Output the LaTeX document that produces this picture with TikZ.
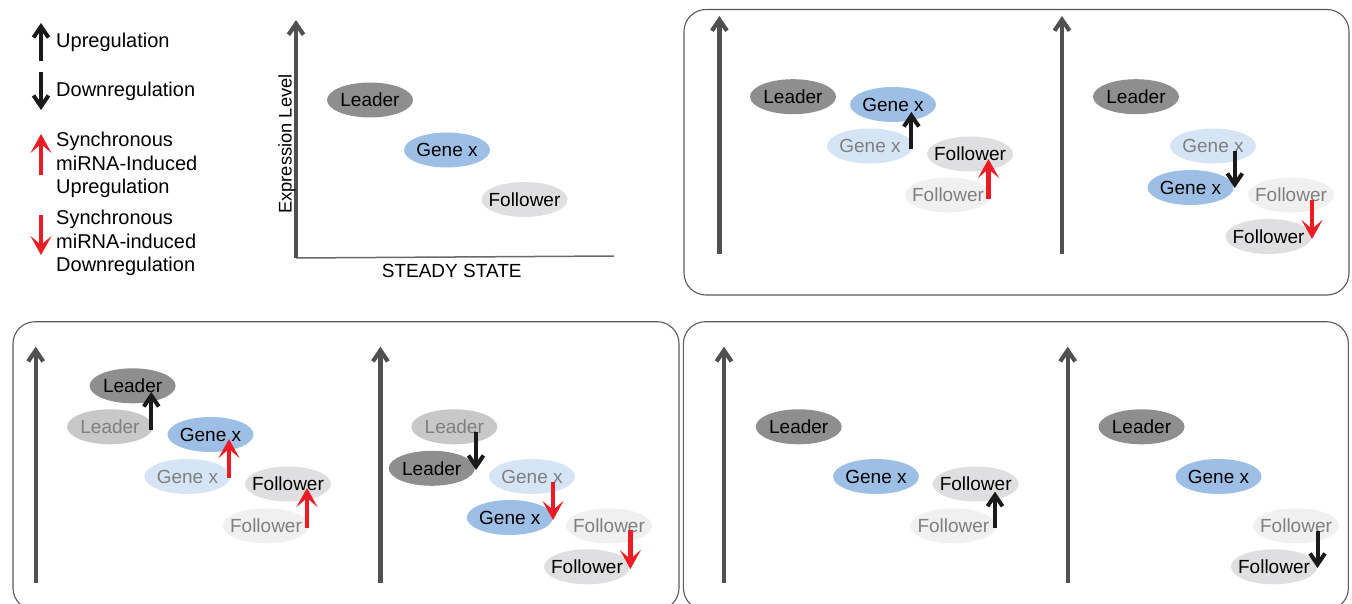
\documentclass[tikz,border=0pt]{standalone}
\usepackage{fontspec}
\setmainfont{Liberation Sans}
\usetikzlibrary{shapes.geometric,arrows.meta}
\definecolor{leaderc}{HTML}{8E8E8E}
\definecolor{leaderfc}{HTML}{C9C8C8}
\definecolor{genec}{HTML}{9EBFE5}
\definecolor{genefc}{HTML}{D6E5F5}
\definecolor{folc}{HTML}{DFDFE1}
\definecolor{folfc}{HTML}{F0F0F0}
\definecolor{fadetext}{HTML}{7F7F7F}
\definecolor{redc}{HTML}{ED1C24}
\definecolor{axisc}{HTML}{505050}
\definecolor{blk}{HTML}{1A1A1A}
\definecolor{panelc}{HTML}{5A5A5A}
\tikzset{
  blob/.style={ellipse, minimum width=86pt, minimum height=35pt, inner sep=0pt,
    font=\fontsize{19}{22}\selectfont,
    execute at begin node={\hbox to 0pt\bgroup\hss},
    execute at end node={\hss\egroup}},
  leader/.style={blob, fill=leaderc, text=black},
  leaderf/.style={blob, fill=leaderfc, text=fadetext},
  gene/.style={blob, fill=genec, text=black},
  genef/.style={blob, fill=genefc, text=fadetext},
  fol/.style={blob, fill=folc, text=black},
  folf/.style={blob, fill=folfc, text=fadetext},
  axisarr/.style={draw=axisc, line width=4.2pt, -{Straight Barb[length=11pt,width=15pt]}},
  regarr/.style={draw=blk, line width=4pt, -{Straight Barb[length=11pt,width=15pt]}},
  redarr/.style={draw=redc, line width=4.4pt, -{Stealth[length=19pt,width=21pt,inset=9pt]}},
  panel/.style={draw=panelc, line width=1.1pt, rounded corners=22pt},
  legtext/.style={inner sep=0pt, font=\fontsize{20}{23.4}\selectfont},
}
\begin{document}
\begin{tikzpicture}[x=1pt,y=-1pt]
\useasboundingbox (0,0) rectangle (1352,604);
\clip (0,0) rectangle (1352,604);
\fill[white] (0,0) rectangle (1352,604);

% ---------- legend ----------
\coordinate (l1a) at (41,61); \coordinate (l1b) at (41,23);
\coordinate (l2a) at (41,72); \coordinate (l2b) at (41,110);
\coordinate (l3a) at (41,175); \coordinate (l3b) at (41,134);
\coordinate (l4a) at (41,215); \coordinate (l4b) at (41,255);
\draw[regarr] (l1a) -- (l1b);
\draw[regarr] (l2a) -- (l2b);
\draw[redarr] (l3a) -- (l3b);
\draw[redarr] (l4a) -- (l4b);
\node[legtext, anchor=base west] (tup) at (56,47.5) {Upregulation};
\node[legtext, anchor=base west] (tdown) at (56,96.7) {Downregulation};
\node[legtext, align=left, anchor=north west] (tsu) at (56,132) {Synchronous\\miRNA-Induced\\Upregulation};
\node[legtext, align=left, anchor=north west] (tsd) at (56,210) {Synchronous\\miRNA-induced\\Downregulation};

% ---------- steady state ----------
\coordinate (so) at (296,258);
\coordinate (sy) at (296,20);
\coordinate (sx) at (614,256);
\draw[draw=axisc!85, line width=1.5pt] (so) -- (sx);
\draw[axisarr] (so) -- (sy);
\node[rotate=90, anchor=base, inner sep=0pt, font=\fontsize{18.3}{20}\selectfont] (ylab) at (291.5,144) {Expression Level};
\node[anchor=base, inner sep=0pt, font=\fontsize{19}{22}\selectfont] (xlab) at (451.7,277.3) {STEADY STATE};
\node[leader] (sL) at (370,100) {Leader};
\node[gene] (sG) at (447,150) {Gene x};
\node[fol] (sF) at (524.5,199.5) {Follower};

% ---------- top-right panel ----------
\draw[panel] (684,9.5) rectangle (1349,295);
\coordinate (t1b) at (719.4,254); \coordinate (t1t) at (719.4,16);
\coordinate (t2b) at (1062,254); \coordinate (t2t) at (1062,16);
\draw[axisarr] (t1b) -- (t1t);
\draw[axisarr] (t2b) -- (t2t);
% left
\node[leader] (aL) at (793,96.7) {Leader};
\node[genef] (aGf) at (870,146) {Gene x};
\node[gene] (aG) at (893,104.5) {Gene x};
\node[folf] (aFf) at (948,195) {Follower};
\node[fol] (aF) at (970,154) {Follower};
\coordinate (a1s) at (911.4,149); \coordinate (a1e) at (911.4,112);
\coordinate (a2s) at (988.5,199); \coordinate (a2e) at (988.5,159);
\draw[regarr] (a1s) -- (a1e);
\draw[redarr] (a2s) -- (a2e);
% right
\node[leader] (bL) at (1136,96.7) {Leader};
\node[genef] (bGf) at (1213,146) {Gene x};
\node[gene] (bG) at (1190.5,187.5) {Gene x};
\node[folf] (bFf) at (1291,195) {Follower};
\node[fol] (bF) at (1268.5,236.5) {Follower};
\coordinate (b1s) at (1234.8,151); \coordinate (b1e) at (1234.8,188);
\coordinate (b2s) at (1312,200); \coordinate (b2e) at (1312,239);
\draw[regarr] (b1s) -- (b1e);
\draw[redarr] (b2s) -- (b2e);

% ---------- bottom-left panel ----------
\draw[panel] (13,321.7) rectangle (679,610);
\coordinate (c1b) at (35.7,583); \coordinate (c1t) at (35.7,346.7);
\coordinate (c2b) at (380.4,583); \coordinate (c2t) at (380.4,346.7);
\draw[axisarr] (c1b) -- (c1t);
\draw[axisarr] (c2b) -- (c2t);
% left
\node[leaderf] (cLf) at (110,426.8) {Leader};
\node[leader] (cL) at (132.6,385.8) {Leader};
\node[genef] (cGf) at (187.4,476.5) {Gene x};
\node[gene] (cG) at (210.5,434.5) {Gene x};
\node[folf] (cFf) at (266,525.8) {Follower};
\node[fol] (cF) at (288,484) {Follower};
\coordinate (c1s) at (151.3,430); \coordinate (c1e) at (151.3,392);
\coordinate (c2s) at (229,478); \coordinate (c2e) at (229,439);
\coordinate (c3s) at (307,527.7); \coordinate (c3e) at (307,488);
\draw[regarr] (c1s) -- (c1e);
\draw[redarr] (c2s) -- (c2e);
\draw[redarr] (c3s) -- (c3e);
% right
\node[leaderf] (dLf) at (454.3,426.8) {Leader};
\node[leader] (dL) at (431.7,468.3) {Leader};
\node[genef] (dGf) at (532,476.5) {Gene x};
\node[gene] (dG) at (509.8,517.5) {Gene x};
\node[folf] (dFf) at (609,525.8) {Follower};
\node[fol] (dF) at (587,566.8) {Follower};
\coordinate (d1s) at (476,432); \coordinate (d1e) at (476,470);
\coordinate (d2s) at (553,481.7); \coordinate (d2e) at (553,520);
\coordinate (d3s) at (630.4,530); \coordinate (d3e) at (630.4,569);
\draw[regarr] (d1s) -- (d1e);
\draw[redarr] (d2s) -- (d2e);
\draw[redarr] (d3s) -- (d3e);

% ---------- bottom-right panel ----------
\draw[panel] (683.4,321.7) rectangle (1348.4,610);
\coordinate (e1b) at (724,583); \coordinate (e1t) at (724,346.7);
\coordinate (e2b) at (1067.7,583); \coordinate (e2t) at (1067.7,346.7);
\draw[axisarr] (e1b) -- (e1t);
\draw[axisarr] (e2b) -- (e2t);
% left
\node[leader] (eL) at (798.7,426.8) {Leader};
\node[gene] (eG) at (876,476.5) {Gene x};
\node[folf] (eFf) at (953.4,525.8) {Follower};
\node[fol] (eF) at (975.7,484) {Follower};
\coordinate (e1s) at (995,528); \coordinate (e1e) at (995,491.7);
\draw[regarr] (e1s) -- (e1e);
% right
\node[leader] (fL) at (1141.5,426.8) {Leader};
\node[gene] (fG) at (1218.5,476.5) {Gene x};
\node[folf] (fFf) at (1296,525.8) {Follower};
\node[fol] (fF) at (1274,566.8) {Follower};
\coordinate (f1s) at (1317.5,531); \coordinate (f1e) at (1317.5,568);
\draw[regarr] (f1s) -- (f1e);
\end{tikzpicture}
\end{document}
